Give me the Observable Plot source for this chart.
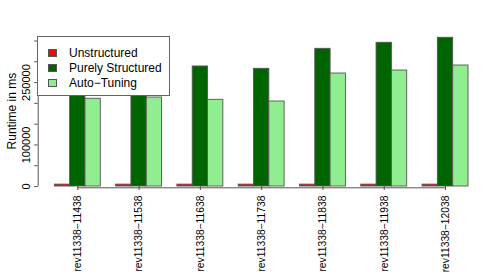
<!DOCTYPE html>
<html>
<head>
<meta charset="utf-8">
<script src="https://cdn.jsdelivr.net/npm/d3@7"></script>
<script src="https://cdn.jsdelivr.net/npm/@observablehq/plot@0.6"></script>
<style>
  body { margin: 0; background: #fff; }
  #wrap { position: relative; width: 500px; height: 278px; font-family: "Liberation Sans", Arial, sans-serif; }
  #legend { position: absolute; left: 37px; top: 36px; width: 133px; height: 60px; box-sizing: border-box;
            border: 1px solid #666; background: #fff; }
  .row { position: absolute; left: 10px; height: 8px; display: flex; align-items: center; white-space: nowrap; }
  .sw { width: 9px; height: 8px; box-sizing: border-box; border: 1px solid #555; margin-right: 12px; flex: none; }
  .lab { font-size: 12px; line-height: 8px; color: #000; }
</style>
</head>
<body>
<div id="wrap"><div id="chart"></div><div id="legend"></div></div>
<script>
const categories = ["rev11338−11438", "rev11338−11538", "rev11338−11638", "rev11338−11738",
                    "rev11338−11838", "rev11338−11938", "rev11338−12038"];
const series = ["Unstructured", "Purely Structured", "Auto−Tuning"];
const unstructured     = [4500, 4500, 4500, 4500, 4500, 4500, 4500];
const purelyStructured = [280000, 278000, 288700, 283100, 331200, 345700, 357700];
const autoTuning       = [211000, 214000, 208500, 204500, 271800, 279000, 291000];
const colors = ["#FF0000", "#006400", "#90EE90"];
const yTicks = [0, 50000, 100000, 150000, 200000, 250000, 300000, 350000];
const yLabels = [0, 100000, 250000];
const yTitle = "Runtime in ms";

const seriesValues = [unstructured, purelyStructured, autoTuning];
const rows = [];
categories.forEach((c, i) => seriesValues.forEach((arr, j) =>
  rows.push({category: c, gi: i, series: series[j], sj: j, value: arr[i]})));

const slotsPerGroup = series.length + 1;
const centers = categories.map((c, i) => i * slotsPerGroup + 1 + series.length / 2);

const chart = Plot.plot({
  width: 500,
  height: 278,
  marginLeft: 39,
  marginRight: 32,
  marginTop: 40.5,
  marginBottom: 92,
  x: {domain: [0, categories.length * slotsPerGroup]},
  y: {domain: [0, 350000]},
  color: {domain: series, range: colors},
  style: {fontFamily: '"Liberation Sans", Arial, sans-serif', background: "white", color: "black"},
  marks: [
    Plot.rectY(rows, {
      x1: d => d.gi * slotsPerGroup + 1 + d.sj,
      x2: d => d.gi * slotsPerGroup + 2 + d.sj,
      y1: 0, y2: "value",
      fill: "series", stroke: "#555", strokeWidth: 0.9
    }),
    Plot.ruleY([0], {x1: centers[0], x2: centers[centers.length - 1], dy: 1.3, stroke: "#555"}),
    Plot.axisX(centers, {
      tickFormat: d => categories[centers.indexOf(d)],
      tickRotate: -90, tickSize: 4, tickPadding: 5, fontSize: 10.3,
      stroke: "#555", fill: "black", label: null
    }),
    Plot.ruleX([0], {y1: 0, y2: 350000, dx: -1.3, stroke: "#555"}),
    Plot.axisY(yTicks, {tickSize: 3.5, tickFormat: () => "", dx: -1.3, stroke: "#555", label: null}),
    Plot.text(yLabels, {y: d => d, text: d => String(d), frameAnchor: "left", dx: -13,
      rotate: -90, textAnchor: "middle", lineAnchor: "middle", fontSize: 11, fill: "black"}),
    Plot.text([yTitle], {text: d => d, frameAnchor: "left", dx: -27, dy: -2.7, rotate: -90,
      textAnchor: "middle", lineAnchor: "middle", fontSize: 12, fill: "black"})
  ]
});
document.getElementById("chart").append(chart);

const legend = document.getElementById("legend");
series.forEach((s, i) => {
  const row = document.createElement("div");
  row.className = "row";
  row.style.top = (11.7 + i * 15.3) + "px";
  const sw = document.createElement("div");
  sw.className = "sw";
  sw.style.background = colors[i];
  const lab = document.createElement("span");
  lab.className = "lab";
  lab.textContent = s;
  row.append(sw, lab);
  legend.append(row);
});
</script>
</body>
</html>
